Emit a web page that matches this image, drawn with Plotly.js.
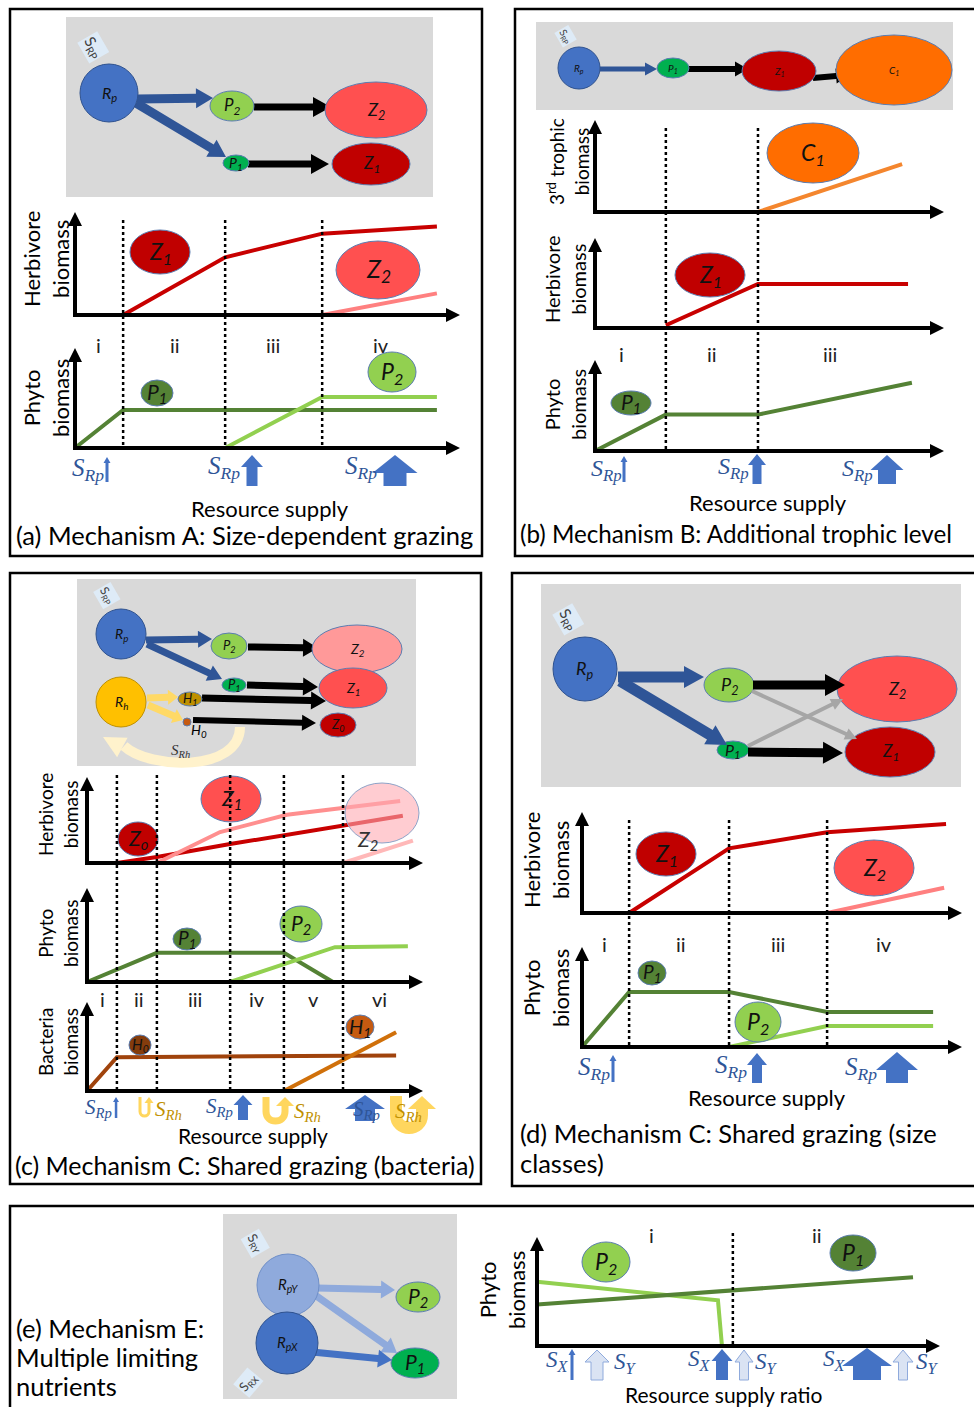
<!DOCTYPE html>
<html><head><meta charset="utf-8">
<script src="https://cdn.plot.ly/plotly-3.0.1.min.js"></script>
<style>html,body{margin:0;padding:0;background:#fff}#chart{width:974px;height:1407px}</style>
</head><body><div id="chart"></div>
<script>
// ---------------- DATA ----------------
// Panel (a) Mechanism A
const aBounds = [1.25, 3.9, 6.42];
const aRegions = ['i', 'ii', 'iii', 'iv'];
const aRegionX = [0.62, 2.6, 5.15, 7.95];
const aZ1x = [1.25, 3.9, 6.42, 9.4], aZ1y = [0, 5.6, 7.9, 8.6];
const aZ2x = [6.42, 9.4], aZ2y = [0, 2.1];
const aP1x = [0, 1.25, 9.4], aP1y = [0, 3.8, 3.8];
const aP2x = [3.9, 6.42, 9.4], aP2y = [0, 5.1, 5.1];
// Panel (b) Mechanism B
const bBounds = [2.03, 4.67];
const bRegions = ['i', 'ii', 'iii'];
const bRegionX = [0.75, 3.35, 6.73];
const bC1x = [4.67, 8.8], bC1y = [0, 5.2];
const bZ1x = [2.03, 4.67, 8.97], bZ1y = [0.3, 4.9, 4.9];
const bP1x = [0, 2.03, 4.67, 9.08], bP1y = [0, 4.0, 4.0, 7.5];
// Panel (c) Mechanism C (bacteria)
const cBounds = [0.89, 2.08, 4.26, 5.86, 7.62];
const cRegions = ['i', 'ii', 'iii', 'iv', 'v', 'vi'];
const cRegionX = [0.45, 1.55, 3.2, 5.06, 6.73, 8.7];
const cZ0x = [0.89, 2.08, 4.26, 7.62, 9.4], cZ0y = [0, 0.7, 2.2, 4.4, 5.5];
const cZ1x = [2.08, 3.96, 5.95, 7.62, 9.32], cZ1y = [0, 3.6, 5.6, 6.4, 7.2];
const cZ2x = [7.62, 9.7], cZ2y = [0, 2.6];
const cP1x = [0, 2.08, 5.86, 7.32], cP1y = [0, 3.1, 3.1, 0];
const cP2x = [4.26, 7.38, 9.55], cP2y = [0, 3.7, 3.8];
const cH0x = [0, 0.89, 9.2], cH0y = [0, 3.8, 4.0];
const cH1x = [5.86, 9.2], cH1y = [0, 6.6];
// Panel (d) Mechanism C (size classes)
const dBounds = [1.24, 3.87, 6.45];
const dRegions = ['i', 'ii', 'iii', 'iv'];
const dRegionX = [0.6, 2.6, 5.16, 7.95];
const dZ1x = [1.24, 3.87, 6.45, 9.58], dZ1y = [0, 6.4, 8.0, 8.8];
const dZ2x = [6.45, 9.53], dZ2y = [0, 2.5];
const dP1x = [0, 1.24, 3.87, 6.45, 9.24], dP1y = [0, 5.5, 5.5, 3.5, 3.5];
const dP2x = [3.87, 6.45, 9.24], dP2y = [0, 2.1, 2.1];
// Panel (e) Mechanism E
const eBounds = [4.86];
const eRegions = ['i', 'ii'];
const eRegionX = [2.85, 6.95];
const eP2x = [0, 4.49, 4.59], eP2y = [5.9, 4.2, 0];
const eP1x = [0, 9.33], eP1y = [3.8, 6.3];

// ---------------- STYLE / HELPERS ----------------
const W = 974, H = 1407;
const FONT = 'Lato, "Open Sans", sans-serif';
const SERIF = '"Liberation Serif", "DejaVu Serif", serif';
const TITLE = 25.5, AXL = 22;
const C = {Z1:'#C80000', Z2:'#FF8080', P1:'#548235', P2:'#92D050', C1:'#F4862E',
  cZ1:'#FF8F8F', cZ2:'#FFB8B8', H0:'#A0430C', H1:'#D0700A', blue:'#4472C4', dblue:'#2F5597'};
const shapes = [], annotations = [], traces = [];
const layout = {width:W, height:H, margin:{l:0,r:0,t:0,b:0}, paper_bgcolor:'#fff', plot_bgcolor:'rgba(0,0,0,0)',
  showlegend:false, font:{family:FONT, size:14, color:'#000'},
  xaxis:{domain:[0,1], range:[0,W], visible:false, fixedrange:true},
  yaxis:{domain:[0,1], range:[H,0], visible:false, fixedrange:true}};
traces.push({type:'scatter', x:[0], y:[0], mode:'markers', marker:{opacity:0}, hoverinfo:'skip', showlegend:false});

function f(v){return v.toFixed(1);}
function arrowPoly(x0,y0,x1,y1,sw,hw,hl){
  const dx=x1-x0, dy=y1-y0, L=Math.hypot(dx,dy), ux=dx/L, uy=dy/L, nx=-uy, ny=ux;
  const bx=x1-ux*hl, by=y1-uy*hl;
  const p=[[x0+nx*sw/2,y0+ny*sw/2],[bx+nx*sw/2,by+ny*sw/2],[bx+nx*hw/2,by+ny*hw/2],[x1,y1],
           [bx-nx*hw/2,by-ny*hw/2],[bx-nx*sw/2,by-ny*sw/2],[x0-nx*sw/2,y0-ny*sw/2]];
  return 'M '+p.map(q=>f(q[0])+','+f(q[1])).join(' L ')+' Z';
}
function arr(x0,y0,x1,y1,sw,hw,hl,color,lc){
  shapes.push({type:'path', xref:'x', yref:'y', path:arrowPoly(x0,y0,x1,y1,sw,hw,hl), fillcolor:color,
    line:lc?{color:lc,width:1}:{width:0}});
}
function rect(x0,y0,x1,y1,fill,lc,lw){
  shapes.push({type:'rect', xref:'x', yref:'y', x0,y0,x1,y1, fillcolor:fill||'rgba(0,0,0,0)', line:lc?{color:lc,width:lw||1}:{width:0}, layer:'below'});
}
function ell(cx,cy,rx,ry,fill,lc){
  shapes.push({type:'circle', xref:'x', yref:'y', x0:cx-rx, x1:cx+rx, y0:cy-ry, y1:cy+ry, fillcolor:fill, line:{color:lc||'#5B7DB1', width:1}});
}
function txt(x,y,text,size,opts){
  const o = Object.assign({x,y,xref:'x',yref:'y',text,showarrow:false,font:{family:FONT,size,color:'#000'}}, opts||{});
  annotations.push(o);
}
function node(cx,cy,rx,ry,fill,label,size,lc){
  ell(cx,cy,rx,ry,fill,lc);
  if(label) txt(cx,cy,'<i>'+label+'</i>',size,{font:{family:FONT,size,color:'#111'}});
}
function srp(x,y,angle,size,label){
  txt(x,y,'S<sub>'+(label||'RP')+'</sub>',size,{textangle:angle,bgcolor:'#DEEBF7',font:{family:FONT,size,color:'#404040'}});
}
function sLab(x,y,sub,size,color){
  txt(x,y,'<i>S<sub>'+sub+'</sub></i>',size,{font:{family:SERIF,size,color:color||C.dblue}});
}
function upArrow(cx,yTop,yBot,sw,hw,hl,fill,lc){ arr(cx,yBot,cx,yTop,sw,hw,hl,fill,lc); }
function uTurn(xl,xr,yTop,yBot,sw,hw,hl,color){
  const r=(xr-xl)/2, ym=yBot-r, k=ym+4/3*r;
  shapes.push({type:'path', xref:'x', yref:'y', fillcolor:'rgba(0,0,0,0)', line:{color,width:sw},
    path:'M '+xl+','+yTop+' L '+xl+','+f(ym)+' C '+xl+','+f(k)+' '+xr+','+f(k)+' '+xr+','+f(ym)+' L '+xr+','+(yTop+hl)});
  shapes.push({type:'path', xref:'x', yref:'y', fillcolor:color, line:{width:0},
    path:'M '+f(xr-hw/2)+','+(yTop+hl)+' L '+f(xr+hw/2)+','+(yTop+hl)+' L '+xr+','+yTop+' Z'});
}
let nAx = 1;
function chart(box){
  const [ox,oy,tx,ty]=box; nAx++;
  const ux=(tx-ox)/10, uy=(oy-ty)/10;
  layout['xaxis'+nAx]={domain:[(ox-ux)/W, tx/W], range:[-1,10], visible:false, fixedrange:true, anchor:'y'+nAx};
  layout['yaxis'+nAx]={domain:[(H-(oy+uy))/H, (H-ty)/H], range:[-1,10], visible:false, fixedrange:true, anchor:'x'+nAx};
  arr(ox-2,oy,tx,oy,4,14,14,'#000');
  arr(ox,oy+2,ox,ty,4,14,14,'#000');
  return nAx;
}
function line(n,xs,ys,color){
  traces.push({type:'scatter', mode:'lines', x:xs, y:ys, xaxis:'x'+n, yaxis:'y'+n, line:{color,width:4}, hoverinfo:'skip', showlegend:false});
}
function bounds(n,xs,yTop,yBot){
  xs.forEach(v=>shapes.push({type:'line', xref:'x'+n, yref:'y', x0:v, x1:v, y0:yTop, y1:yBot, line:{color:'#000',width:2.5,dash:'dot'}}));
}
function regions(n,labels,xs,y){
  labels.forEach((l,i)=>annotations.push({xref:'x'+n, yref:'y', x:xs[i], y, text:l, showarrow:false, font:{family:FONT,size:20,color:'#222'}}));
}
function ylab(x,y,text,size){ txt(x,y,text,size,{textangle:-90}); }

// ---------------- PANEL BORDERS ----------------
rect(10,9,482,556,null,'#000',2.5);
rect(515,9,990,556,null,'#000',2.5);
rect(10,573,481,1184,null,'#000',2.5);
rect(512,573,990,1186,null,'#000',2.5);
rect(10,1206,990,1420,null,'#000',2.5);

// ---------------- PANEL (a) ----------------
rect(66,17,433,197,'#D9D9D9');
arr(137,99,213,98,9,20,17,C.dblue);
arr(136,103,226,157,9,20,17,C.dblue);
arr(254,107,331,107,7,20,18,'#000');
arr(248,164,329,164,7,20,18,'#000');
node(109,93,29,29,C.blue,'R<sub>p</sub>',16,'#2F528F');
node(232,106,22,15,'#92D050','P<sub>2</sub>',17);
node(376,110,51,28,'#FF5050','Z<sub>2</sub>',18);
node(236,163,13,8,'#00B050','P<sub>1</sub>',14);
node(371,164,39,21,'#C00000','Z<sub>1</sub>',17);
srp(93,47,60,15);

let n = chart([75,315,460,212]);
line(n,aZ1x,aZ1y,C.Z1); line(n,aZ2x,aZ2y,C.Z2);
bounds(n,aBounds,220,448);
regions(n,aRegions,aRegionX,345);
node(160,252,30,22,'#C00000','Z<sub>1</sub>',23);
node(378,270,42,29,'#FF5050','Z<sub>2</sub>',25);
ylab(46,259,'Herbivore<br>biomass',AXL);
n = chart([75,448,460,348]);
line(n,aP1x,aP1y,C.P1); line(n,aP2x,aP2y,C.P2);
node(157,393,16,13,'#548235','P<sub>1</sub>',21);
node(392,372,24,20,'#92D050','P<sub>2</sub>',23);
ylab(46,398,'Phyto<br>biomass',AXL);
upArrow(107,457,482,3,7,6,C.blue); sLab(88,469,'Rp',25);
upArrow(252,455,486,11,22,12,C.blue); sLab(224,467,'Rp',25);
upArrow(395,455,486,23,45,18,C.blue); sLab(361,467,'Rp',25);
txt(270,508,'Resource supply',AXL);
txt(14,535,'(a) Mechanism A: Size-dependent grazing',TITLE,{xanchor:'left'});

// ---------------- PANEL (b) ----------------
rect(536,22,953,110,'#D9D9D9');
arr(600,69,657,69,5,13,12,C.dblue);
arr(688,69,748,69,6,15,13,'#000');
arr(813,78,849,75,6,15,13,'#000');
node(579,68,21,21,C.blue,'R<sub>p</sub>',10,'#2F528F');
node(673,68,16,10,'#00B050','P<sub>1</sub>',10);
node(779,71,37,20,'#C00000','Z<sub>1</sub>',10);
node(894,70,58,35,'#FF6D00','C<sub>1</sub>',10);
srp(566,36,60,10);

n = chart([595,212,944,120]);
line(n,bC1x,bC1y,C.C1);
node(813,153,46,30,'#FF6D00','C<sub>1</sub>',23);
ylab(568,162,'3<sup>rd</sup> trophic<br>biomass',19);
const nb = n;
n = chart([595,328,944,238]);
line(n,bZ1x,bZ1y,C.Z1);
node(710,275,35,22,'#C00000','Z<sub>1</sub>',23);
ylab(565,279,'Herbivore<br>biomass',20);
regions(n,bRegions,bRegionX,354);
n = chart([595,451,944,360]);
line(n,bP1x,bP1y,C.P1);
node(631,403,20,12,'#548235','P<sub>1</sub>',21);
ylab(565,405,'Phyto<br>biomass',20);
bounds(nb,bBounds,128,451);
upArrow(624,456,482,3,7,6,C.blue); sLab(606,470,'Rp',24);
upArrow(757,454,484,9,18,11,C.blue); sLab(733,468,'Rp',24);
upArrow(887,455,484,18,33,15,C.blue); sLab(857,470,'Rp',24);
txt(768,502,'Resource supply',AXL);
txt(518,533,'(b) Mechanism B: Additional trophic level',24.2,{xanchor:'left'});

// ---------------- PANEL (c) ----------------
rect(77,579,416,766,'#D9D9D9');
shapes.push({type:'path', xref:'x', yref:'y', fillcolor:'rgba(0,0,0,0)', line:{color:'#FFF2CC',width:10},
  path:'M 240,727 C 240,772 150,770 124,746'});
arr(138,756,103,737,0,22,22,'#FFF2CC');
arr(146,640,212,639,7,17,14,C.dblue);
arr(147,644,222,679,7,17,14,C.dblue);
arr(248,647,318,648,7,18,15,'#000');
arr(247,685,318,687,7,18,15,'#000');
arr(202,698,326,701,7,18,15,'#000');
arr(193,720,316,723,6,16,14,'#000');
arr(147,698,178,697,7,15,10,'#FFD966');
arr(148,705,183,720,7,15,10,'#FFD966');
node(121,634,25,25,C.blue,'R<sub>p</sub>',14,'#2F528F');
node(229,646,18,13,'#92D050','P<sub>2</sub>',13);
node(357,649,45,24,'#FF9999','Z<sub>2</sub>',14);
node(234,685,12,7,'#00B050','P<sub>1</sub>',13);
node(353,688,34,20,'#FF5050','Z<sub>1</sub>',14);
node(121,702,25,25,'#FFC000','R<sub>h</sub>',14,'#BF9000');
node(190,699,12,7,'#BF9000','H<sub>1</sub>',13);
node(187,722,4,4,'#C55A11','',12);
node(338,725,18,12,'#C00000','Z<sub>0</sub>',13);
txt(199,730,'<i>H<sub>0</sub></i>',14);
txt(180,751,'<i>S<sub>Rh</sub></i>',15,{font:{family:SERIF,size:15,color:'#333'}});
srp(107,595,60,12);

n = chart([87,863,423,777]);
const nc = n;
line(n,cZ0x,cZ0y,C.Z1); line(n,cZ1x,cZ1y,C.cZ1); line(n,cZ2x,cZ2y,C.cZ2);
node(138,839,20,17,'#C00000','Z<sub>o</sub>',21);
node(231,799,30,23,'#FF5050','Z<sub>1</sub>',21);
shapes.push({type:'circle', xref:'x', yref:'y', x0:345, x1:419, y0:783, y1:843, fillcolor:'rgba(255,170,178,0.6)', line:{color:'#8EA3C8',width:1}});
txt(367,840,'<i>Z<sub>2</sub></i>',21,{font:{family:FONT,size:21,color:'#333'}});
ylab(58,815,'Herbivore<br>biomass',19);
n = chart([87,982,423,888]);
line(n,cP1x,cP1y,C.P1); line(n,cP2x,cP2y,C.P2);
node(187,939,14,11,'#548235','P<sub>1</sub>',19);
node(301,924,21,18,'#92D050','P<sub>2</sub>',21);
ylab(58,933,'Phyto<br>biomass',19);
regions(n,cRegions,cRegionX,999);
n = chart([87,1091,423,1002]);
line(n,cH0x,cH0y,C.H0); line(n,cH1x,cH1y,C.H1);
node(140,1045,11,10,'#843C0C','H<sub>0</sub>',15);
node(360,1027,14,12,'#C55A11','H<sub>1</sub>',20);
ylab(58,1042,'Bacteria<br>biomass',19);
bounds(nc,cBounds,775,1091);
upArrow(116,1097,1118,2.5,6,5,C.blue); sLab(98,1108,'Rp',21);
uTurn(140,149,1097,1116,3,9,6,'rgba(255,200,40,0.75)'); sLab(168,1110,'Rh',21,'#BF9000');
upArrow(243,1095,1120,10,19,10,C.blue); sLab(219,1107,'Rp',21);
uTurn(266,285,1097,1121,7,18,9,'rgba(255,200,40,0.75)'); sLab(307,1112,'Rh',21,'#BF9000');
upArrow(365,1095,1121,20,40,14,C.blue); sLab(366,1110,'Rp',21);
uTurn(396,422,1096,1128,12,28,13,'rgba(255,200,40,0.75)'); sLab(408,1112,'Rh',21,'#BF9000');
txt(253,1135,'Resource supply',21);
txt(13,1165,'(c) Mechanism C: Shared grazing (bacteria)',25,{xanchor:'left'});

// ---------------- PANEL (d) ----------------
rect(541,584,961,787,'#D9D9D9');
node(585,669,32,32,C.blue,'R<sub>p</sub>',18,'#2F528F');
node(729,685,25,17,'#92D050','P<sub>2</sub>',18);
node(897,689,60,33,'#FF5050','Z<sub>2</sub>',18);
node(733,750,16,9,'#00B050','P<sub>1</sub>',16);
node(890,752,45,25,'#C00000','Z<sub>1</sub>',17);
arr(618,677,704,677,11,22,20,C.dblue);
arr(620,681,727,745,11,22,20,C.dblue);
arr(752,691,857,739,4,12,12,'#A6A6A6');
arr(748,746,843,699,4,12,12,'#A6A6A6');
arr(753,685,845,685,9,22,20,'#000');
arr(748,752,843,753,9,22,20,'#000');
srp(568,619,60,15);

n = chart([582,913,962,812]);
const nd = n;
line(n,dZ1x,dZ1y,C.Z1); line(n,dZ2x,dZ2y,C.Z2);
node(666,854,30,22,'#C00000','Z<sub>1</sub>',23);
node(874,868,40,28,'#FF5050','Z<sub>2</sub>',23);
ylab(546,860,'Herbivore<br>biomass',AXL);
regions(n,dRegions,dRegionX,944);
n = chart([582,1047,962,947]);
node(652,973,14,12,'#548235','P<sub>1</sub>',19);
node(758,1022,23,20,'#92D050','P<sub>2</sub>',23);
line(n,dP1x,dP1y,C.P1); line(n,dP2x,dP2y,C.P2);
ylab(546,988,'Phyto<br>biomass',AXL);
bounds(nd,dBounds,820,1047);
upArrow(613,1055,1082,3,7,6,C.blue); sLab(594,1068,'Rp',25);
upArrow(757,1053,1083,10,20,12,C.blue); sLab(731,1066,'Rp',25);
upArrow(897,1052,1083,22,42,18,C.blue); sLab(861,1068,'Rp',25);
txt(767,1097,'Resource supply',AXL);
txt(518,1133,'(d) Mechanism C: Shared grazing (size',TITLE,{xanchor:'left'});
txt(518,1163,'classes)',TITLE,{xanchor:'left'});

// ---------------- PANEL (e) ----------------
rect(223,1214,457,1399,'#D9D9D9');
arr(317,1288,395,1290,7,18,14,'#8FAADC');
arr(315,1295,397,1353,7,18,14,'#8FAADC');
arr(312,1352,392,1360,7,18,14,C.blue);
node(288,1285,31,31,'#8FAADC','R<sub>pY</sub>',15,'#6F8FC8');
node(287,1343,31,31,C.blue,'R<sub>pX</sub>',15,'#2F528F');
node(418,1297,22,15,'#92D050','P<sub>2</sub>',21);
node(415,1363,24,15,'#00B050','P<sub>1</sub>',21);
srp(255,1243,60,13,'RY');
srp(248,1383,-50,13,'RX');
txt(14,1328,'(e) Mechanism E:',TITLE,{xanchor:'left'});
txt(14,1357,'Multiple limiting',TITLE,{xanchor:'left'});
txt(14,1386,'nutrients',TITLE,{xanchor:'left'});

n = chart([537,1346,940,1237]);
line(n,eP2x,eP2y,C.P2); line(n,eP1x,eP1y,C.P1);
bounds(n,eBounds,1233,1346);
regions(n,eRegions,eRegionX,1235);
node(606,1262,24,20,'#92D050','P<sub>2</sub>',23);
node(853,1253,23,18,'#548235','P<sub>1</sub>',23);
ylab(502,1290,'Phyto<br>biomass',AXL);
upArrow(572,1349,1380,3,7,6,C.blue); sLab(557,1361,'X',23);
upArrow(597,1350,1380,12,24,12,'#DAE3F3','#8FAADC'); sLab(625,1363,'Y',23);
upArrow(722,1349,1380,12,21,12,C.blue); sLab(699,1360,'X',23);
upArrow(744,1350,1380,9,18,12,'#DAE3F3','#8FAADC'); sLab(766,1363,'Y',23);
upArrow(867,1348,1380,28,50,18,C.blue); sLab(834,1360,'X',23);
upArrow(903,1350,1380,9,20,12,'#DAE3F3','#8FAADC'); sLab(927,1363,'Y',23);
txt(723,1394,'Resource supply ratio',21);

layout.shapes = shapes;
layout.annotations = annotations;
Plotly.newPlot('chart', traces, layout, {displayModeBar:false, responsive:false});
</script>
</body></html>
